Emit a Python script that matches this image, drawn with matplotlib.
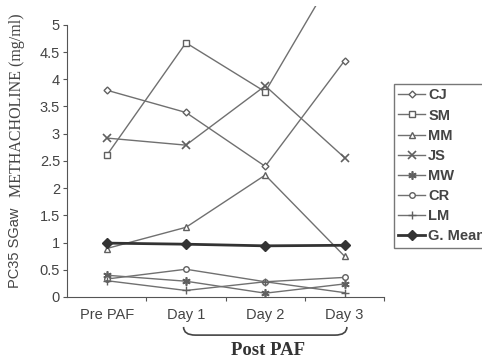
import matplotlib.pyplot as plt
from matplotlib.patches import Rectangle
from matplotlib.path import Path
from matplotlib.patches import PathPatch
from matplotlib.transforms import blended_transform_factory

days = ['Pre PAF', 'Day 1', 'Day 2', 'Day 3']
cj = [3.80, 3.39, 2.40, 4.34]
sm = [2.60, 4.67, 3.77, 6.25]
mm = [0.89, 1.28, 2.24, 0.75]
js = [2.92, 2.79, 3.88, 2.56]
mw = [0.40, 0.29, 0.07, 0.24]
cr = [0.33, 0.51, 0.28, 0.36]
lm = [0.30, 0.12, 0.28, 0.08]
gmean = [0.99, 0.97, 0.94, 0.95]

series = [
    ('CJ', cj, dict(marker='D', ms=3.5, mfc='white')),
    ('SM', sm, dict(marker='s', ms=4, mfc='white')),
    ('MM', mm, dict(marker='^', ms=4.5, mfc='white')),
    ('JS', js, dict(marker='x', ms=6, mew=1.2)),
    ('MW', mw, dict(marker=(6, 2, 0), ms=6, mew=1.2)),
    ('CR', cr, dict(marker='o', ms=4, mfc='white')),
    ('LM', lm, dict(marker='+', ms=6, mew=1.0)),
    ('G. Mean', gmean, dict(marker='D', ms=5, lw=2.0, color='#333333', mfc='#333333')),
]

plt.rcParams['font.family'] = 'Liberation Sans'
fig = plt.figure(figsize=(4.82, 3.6), dpi=100)
ax = fig.add_axes([0.139, 0.175, 0.658, 0.756])

x = list(range(len(days)))
clip = Rectangle((-0.2, -0.2), 1.4, 1.27, transform=ax.transAxes)
for name, vals, st in series:
    kw = dict(color='#707070', lw=1.0, mec=st.get('color', '#606060'))
    kw.update(st)
    line, = ax.plot(x, vals, label=name, **kw)
    line.set_clip_path(clip)

ax.set_xlim(-0.5, 3.5)
ax.set_ylim(0, 5)
ax.set_yticks([0, 0.5, 1, 1.5, 2, 2.5, 3, 3.5, 4, 4.5, 5])
ax.set_yticklabels(['0', '0.5', '1', '1.5', '2', '2.5', '3', '3.5', '4', '4.5', '5'])
ax.set_xticks([0.5, 1.5, 2.5, 3.5])
ax.set_xticklabels([])
ax.set_xticks(x, minor=True)
ax.set_xticklabels(days, minor=True)
ax.tick_params(axis='x', which='minor', length=0, labelsize=10.5, labelcolor='#444444', pad=8)
ax.tick_params(axis='x', which='major', length=3, color='#555555')
ax.tick_params(axis='y', length=3, labelsize=10.5, labelcolor='#444444', color='#555555', pad=2)
for s in ['top', 'right']:
    ax.spines[s].set_visible(False)
for s in ['left', 'bottom']:
    ax.spines[s].set_color('#555555')

# y label: sans part and serif part
fig.text(0.032, 1 - 288 / 360, 'PC35 SGaw', rotation=90, ha='center', va='bottom',
         fontsize=10.5, color='#444444')
fig.text(0.036, 1 - 13 / 360, 'METHACHOLINE (mg/ml)', rotation=90, ha='center', va='top',
         fontsize=11.5, color='#444444', family='Liberation Serif')

# Post PAF bracket
tr = blended_transform_factory(ax.transData, ax.transAxes)
y0, y1 = -0.11, -0.14
verts = [(0.97, y0), (0.97, y1), (1.12, y1), (2.88, y1), (3.03, y1), (3.03, y0)]
codes = [Path.MOVETO, Path.CURVE3, Path.CURVE3, Path.LINETO, Path.CURVE3, Path.CURVE3]
ax.add_patch(PathPatch(Path(verts, codes), transform=tr, fill=False,
                       ec='#444444', lw=1.2, clip_on=False))
ax.text(2.04, -0.197, 'Post PAF', transform=tr, ha='center', va='center',
        fontsize=13.5, fontweight='bold', family='Liberation Serif', color='#333333')

leg = fig.legend(loc='upper left', bbox_to_anchor=(394 / 482, 1 - 84 / 360),
                 frameon=True, fancybox=False, edgecolor='#555555',
                 fontsize=10.5, handlelength=1.8, handletextpad=0.25,
                 labelspacing=0.42, borderpad=0.3, borderaxespad=0)
leg.get_frame().set_linewidth(1.0)
for t in leg.get_texts():
    t.set_fontweight('bold')
    t.set_color('#444444')

fig.savefig('out.png', dpi=100)
